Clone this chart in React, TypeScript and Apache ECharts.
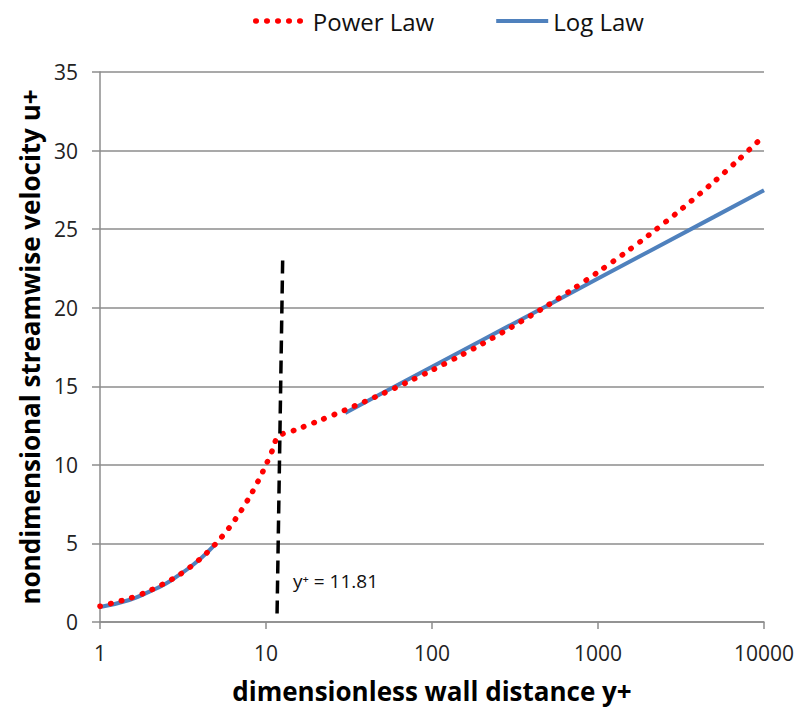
import React, { useEffect, useRef } from "react";
import * as echarts from "echarts";

// Power Law: viscous sublayer u+ = y+ up to 11.81, then power law
const powerX = [1, 1.5, 2, 3, 4, 5, 6, 7, 8, 9, 10, 11, 11.81, 15, 20, 30, 50, 70, 100, 150, 200, 300, 500, 700, 1000, 1500, 2000, 3000, 5000, 7000, 10000];
const powerY = [1, 1.5, 2, 3, 4, 5, 6, 7, 8, 9, 10, 11, 11.81, 12.22, 12.73, 13.49, 14.51, 15.23, 16.02, 16.98, 17.69, 18.75, 20.17, 21.16, 22.27, 23.59, 24.58, 26.05, 28.02, 29.4, 30.94];

// Log Law: viscous part (1..5) and log region (30..10000)
const logViscX = [1, 1.5, 2, 2.5, 3, 3.5, 4, 4.5, 5];
const logViscY = [0.95, 1.4, 1.95, 2.45, 3, 3.5, 4, 4.5, 5];
const logOuterX = [30, 50, 100, 200, 500, 1000, 2000, 5000, 10000];
const logOuterY = [13.3, 14.55, 16.24, 17.93, 20.16, 21.86, 23.55, 25.78, 27.47];

// Dashed marker at y+ = 11.81
const markX = [12.6, 11.65];
const markY = [23, 0.25];

const xTicks = [1, 10, 100, 1000, 10000];
const annotation = "y\u207A = 11.81";

const FONT = "'Open Sans', sans-serif";
const RED = "#ff0000";
const BLUE = "#4f81bd";
const redDots = { color: RED, width: 5.5, type: [0.5, 10.5], cap: "round" };
const blueLine = { color: BLUE, width: 4 };

const zip = (xs: number[], ys: number[]) => xs.map((x, i) => [x, ys[i]]);

export default function App() {
  const ref = useRef<HTMLDivElement>(null);
  useEffect(() => {
    if (!ref.current) return;
    const chart = echarts.init(ref.current, undefined, { renderer: "svg" });
    const gridColor = "#8c8c8c";
    chart.setOption({
      animation: false,
      backgroundColor: "#ffffff",
      textStyle: { fontFamily: FONT },
      grid: { left: 100, right: 32, top: 72, bottom: 88 },
      legend: {
        data: [
          { name: "Power Law", lineStyle: redDots, itemStyle: { opacity: 0 } },
          { name: "Log Law", lineStyle: blueLine, itemStyle: { opacity: 0 } },
        ],
        left: 248,
        top: 4,
        itemWidth: 52,
        itemHeight: 14,
        itemGap: 60,
        itemStyle: { opacity: 0 },
        textStyle: { fontFamily: FONT, fontSize: 24, color: "#111" },
      },
      xAxis: {
        type: "log",
        logBase: 10,
        min: xTicks[0],
        max: xTicks[xTicks.length - 1],
        name: "dimensionless wall distance y+",
        nameLocation: "middle",
        nameGap: 56,
        nameTextStyle: { fontFamily: FONT, fontSize: 26, fontWeight: "bold", color: "#000" },
        axisLine: { show: true, lineStyle: { color: gridColor, width: 1.5 } },
        axisTick: { show: true, length: 7, lineStyle: { color: gridColor, width: 1.5 } },
        minorTick: { show: false },
        splitLine: { show: false },
        axisLabel: {
          fontFamily: FONT,
          fontSize: 21,
          color: "#222",
          margin: 20,
          formatter: (v: number) => String(Math.round(v)),
        },
      },
      yAxis: {
        type: "value",
        min: 0,
        max: 35,
        interval: 5,
        name: "nondimensional streamwise velocity u+",
        nameLocation: "middle",
        nameGap: 45,
        nameRotate: 90,
        nameTextStyle: { fontFamily: FONT, fontSize: 26, fontWeight: "bold", color: "#000" },
        axisLine: { show: true, lineStyle: { color: gridColor, width: 1.5 } },
        axisTick: { show: true, length: 8, lineStyle: { color: gridColor, width: 1.5 } },
        splitLine: { show: true, lineStyle: { color: gridColor, width: 1.5 } },
        axisLabel: { fontFamily: FONT, fontSize: 21, color: "#222", margin: 22 },
      },
      graphic: [
        {
          type: "text",
          left: 293,
          top: 571,
          style: { text: annotation, fontFamily: FONT, fontSize: 19, fill: "#111" },
        },
      ],
      series: [
        {
          name: "Log Law",
          type: "line",
          data: zip(logViscX, logViscY),
          smooth: true,
          showSymbol: false,
          symbol: "none",
          lineStyle: blueLine,
          itemStyle: { color: BLUE },
          z: 2,
        },
        {
          name: "Log Law",
          type: "line",
          data: zip(logOuterX, logOuterY),
          showSymbol: false,
          symbol: "none",
          lineStyle: blueLine,
          itemStyle: { color: BLUE },
          z: 2,
        },
        {
          name: "Power Law",
          type: "line",
          data: zip(powerX, powerY),
          smooth: 0.3,
          showSymbol: false,
          symbol: "none",
          lineStyle: redDots,
          itemStyle: { color: RED },
          z: 3,
        },
        {
          name: "marker",
          type: "line",
          data: zip(markX, markY),
          showSymbol: false,
          symbol: "none",
          lineStyle: { color: "#000", width: 3.5, type: [13, 7] },
          z: 4,
        },
      ],
    });
    return () => chart.dispose();
  }, []);
  return (
    <div
      ref={ref}
      style={{ position: "absolute", left: 0, top: 0, width: 797, height: 710 }}
    />
  );
}
